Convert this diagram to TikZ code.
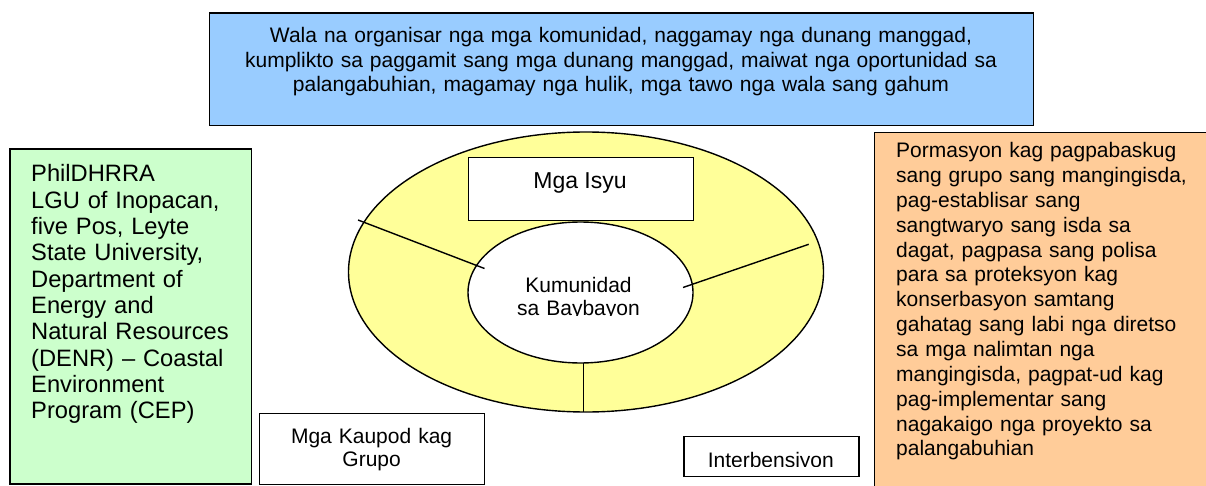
\documentclass[tikz,border=0pt]{standalone}
\usepackage{fontspec}
\setmainfont{Liberation Sans}
\usetikzlibrary{shapes.geometric}
\definecolor{topblue}{HTML}{99CCFF}
\definecolor{boxgreen}{HTML}{CCFFCC}
\definecolor{boxorange}{HTML}{FFCC99}
\definecolor{ringyellow}{HTML}{FFFF99}
\begin{document}
\begin{tikzpicture}[x=1pt,y=-1pt,
  box/.style={draw=black, line width=1.4pt, rectangle, inner sep=0pt, anchor=north west},
  txt/.style={inner sep=0pt, text=black},
  ring/.style={draw=black, line width=1.4pt, ellipse, inner sep=0pt},
  spoke/.style={draw=black, line width=1.4pt}]
\useasboundingbox (0,0) rectangle (1206,486);
\clip (0,0) rectangle (1206,486);
\fill[white] (0,0) rectangle (1206,486);

% boxes
\node[box, fill=topblue, minimum width=824pt, minimum height=112.5pt] (problems) at (209,12.5) {};
\node[box, fill=boxgreen, minimum width=241.2pt, minimum height=335pt] (partners) at (9.3,148.3) {};
\node[box, fill=boxorange, minimum width=360pt, minimum height=380pt] (actions) at (873.5,131.7) {};

% rings
\node[ring, fill=ringyellow, minimum width=475pt, minimum height=280pt] (outer) at (586,272) {};
\node[box, fill=white, minimum width=225pt, minimum height=63.3pt] (isyu) at (467.7,156.7) {};
\node[ring, fill=white, minimum width=225pt, minimum height=141pt] (inner) at (580.5,292.5) {};

% spokes
\coordinate (s1a) at (358,220);
\coordinate (s1b) at (484.5,268.5);
\coordinate (s2a) at (808.7,244.3);
\coordinate (s2b) at (683,287.5);
\coordinate (s3a) at (583.3,363.3);
\coordinate (s3b) at (583.3,412);
\draw[spoke] (s1a) -- (s1b);
\draw[spoke] (s2a) -- (s2b);
\draw[spoke] (s3a) -- (s3b);

% lower boxes
\node[box, fill=white, minimum width=225pt, minimum height=71.3pt] (kaupod) at (259,412.7) {};
\node[box, fill=white, minimum width=175pt, minimum height=40pt] (interb) at (683.3,436) {};

% texts
\node[txt, anchor=north, text width=820pt, align=center, font=\fontsize{21}{24.5}\selectfont] (problemstext) at (621,25.5)
  {\strut Wala na organisar nga mga komunidad, naggamay nga dunang manggad,\\
   kumplikto sa paggamit sang mga dunang manggad, maiwat nga oportunidad sa\\
   palangabuhian, magamay nga hulik, mga tawo nga wala sang gahum};

\node[txt, anchor=north west, text width=230pt, align=left, font=\fontsize{23.7}{26.3}\selectfont] (partnerstext) at (31,163.3)
  {\strut PhilDHRRA\\ LGU of Inopacan,\\ five Pos, Leyte\\ State University,\\ Department of\\ Energy and\\ Natural Resources\\ (DENR) – Coastal\\ Environment\\ Program (CEP)};

\node[txt, anchor=north west, text width=320pt, align=left, font=\fontsize{21}{24.85}\selectfont] (actionstext) at (896,140.1)
  {\strut Pormasyon kag pagpabaskug\\ sang grupo sang mangingisda,\\ pag-establisar sang\\ sangtwaryo sang isda sa\\ dagat, pagpasa sang polisa\\ para sa proteksyon kag\\ konserbasyon samtang\\ gahatag sang labi nga diretso\\ sa mga nalimtan nga\\ mangingisda, pagpat-ud kag\\ pag-implementar sang\\ nagakaigo nga proyekto sa\\ palangabuhian};

\node[txt, anchor=base, font=\fontsize{23}{27}\selectfont] (isyutext) at (580,189) {Mga Isyu};

\begin{scope}
\clip (460,260) rectangle (700,315.8);
\node[txt, anchor=north, text width=200pt, align=center, font=\fontsize{21}{22.7}\selectfont] (innertext) at (578.5,276.4)
  {\strut Kumunidad\\ sa Baybayon};
\end{scope}

\node[txt, anchor=north, text width=220pt, align=center, font=\fontsize{21}{23.4}\selectfont] (kaupodtext) at (371.6,426.9)
  {\strut Mga Kaupod kag\\ Grupo};

\begin{scope}
\clip (684,437) rectangle (857.5,466);
\node[txt, anchor=base, font=\fontsize{21}{24}\selectfont] (interbtext) at (770.8,467) {Interbensiyon};
\end{scope}
\end{tikzpicture}
\end{document}
